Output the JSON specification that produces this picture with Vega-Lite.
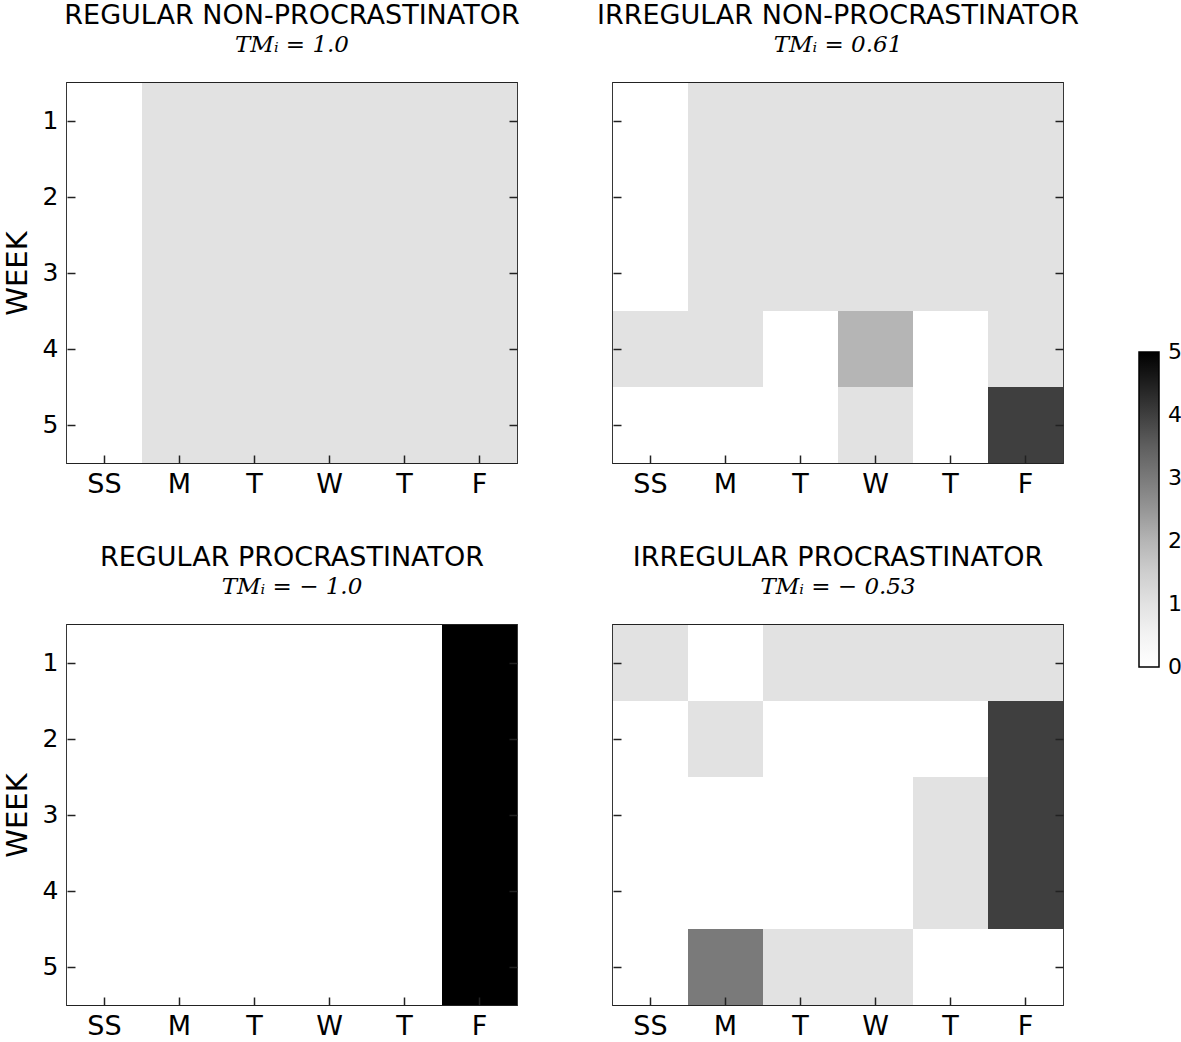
{
  "$schema": "https://vega.github.io/schema/vega-lite/v6.json",
  "padding": {"left": 2, "top": 1, "right": 0, "bottom": 0},
  "background": "white",
  "bounds": "flush",
  "spacing": {"row": 162, "column": 96},
  "columns": 2,
  "datasets": {
    "cells": [
      {"p":"A","w":1,"d":0,"v":0},{"p":"A","w":1,"d":1,"v":1},{"p":"A","w":1,"d":2,"v":1},{"p":"A","w":1,"d":3,"v":1},{"p":"A","w":1,"d":4,"v":1},{"p":"A","w":1,"d":5,"v":1},
      {"p":"A","w":2,"d":0,"v":0},{"p":"A","w":2,"d":1,"v":1},{"p":"A","w":2,"d":2,"v":1},{"p":"A","w":2,"d":3,"v":1},{"p":"A","w":2,"d":4,"v":1},{"p":"A","w":2,"d":5,"v":1},
      {"p":"A","w":3,"d":0,"v":0},{"p":"A","w":3,"d":1,"v":1},{"p":"A","w":3,"d":2,"v":1},{"p":"A","w":3,"d":3,"v":1},{"p":"A","w":3,"d":4,"v":1},{"p":"A","w":3,"d":5,"v":1},
      {"p":"A","w":4,"d":0,"v":0},{"p":"A","w":4,"d":1,"v":1},{"p":"A","w":4,"d":2,"v":1},{"p":"A","w":4,"d":3,"v":1},{"p":"A","w":4,"d":4,"v":1},{"p":"A","w":4,"d":5,"v":1},
      {"p":"A","w":5,"d":0,"v":0},{"p":"A","w":5,"d":1,"v":1},{"p":"A","w":5,"d":2,"v":1},{"p":"A","w":5,"d":3,"v":1},{"p":"A","w":5,"d":4,"v":1},{"p":"A","w":5,"d":5,"v":1},
      {"p":"B","w":1,"d":0,"v":0},{"p":"B","w":1,"d":1,"v":1},{"p":"B","w":1,"d":2,"v":1},{"p":"B","w":1,"d":3,"v":1},{"p":"B","w":1,"d":4,"v":1},{"p":"B","w":1,"d":5,"v":1},
      {"p":"B","w":2,"d":0,"v":0},{"p":"B","w":2,"d":1,"v":1},{"p":"B","w":2,"d":2,"v":1},{"p":"B","w":2,"d":3,"v":1},{"p":"B","w":2,"d":4,"v":1},{"p":"B","w":2,"d":5,"v":1},
      {"p":"B","w":3,"d":0,"v":0},{"p":"B","w":3,"d":1,"v":1},{"p":"B","w":3,"d":2,"v":1},{"p":"B","w":3,"d":3,"v":1},{"p":"B","w":3,"d":4,"v":1},{"p":"B","w":3,"d":5,"v":1},
      {"p":"B","w":4,"d":0,"v":1},{"p":"B","w":4,"d":1,"v":1},{"p":"B","w":4,"d":2,"v":0},{"p":"B","w":4,"d":3,"v":2},{"p":"B","w":4,"d":4,"v":0},{"p":"B","w":4,"d":5,"v":1},
      {"p":"B","w":5,"d":0,"v":0},{"p":"B","w":5,"d":1,"v":0},{"p":"B","w":5,"d":2,"v":0},{"p":"B","w":5,"d":3,"v":1},{"p":"B","w":5,"d":4,"v":0},{"p":"B","w":5,"d":5,"v":4},
      {"p":"C","w":1,"d":0,"v":0},{"p":"C","w":1,"d":1,"v":0},{"p":"C","w":1,"d":2,"v":0},{"p":"C","w":1,"d":3,"v":0},{"p":"C","w":1,"d":4,"v":0},{"p":"C","w":1,"d":5,"v":5},
      {"p":"C","w":2,"d":0,"v":0},{"p":"C","w":2,"d":1,"v":0},{"p":"C","w":2,"d":2,"v":0},{"p":"C","w":2,"d":3,"v":0},{"p":"C","w":2,"d":4,"v":0},{"p":"C","w":2,"d":5,"v":5},
      {"p":"C","w":3,"d":0,"v":0},{"p":"C","w":3,"d":1,"v":0},{"p":"C","w":3,"d":2,"v":0},{"p":"C","w":3,"d":3,"v":0},{"p":"C","w":3,"d":4,"v":0},{"p":"C","w":3,"d":5,"v":5},
      {"p":"C","w":4,"d":0,"v":0},{"p":"C","w":4,"d":1,"v":0},{"p":"C","w":4,"d":2,"v":0},{"p":"C","w":4,"d":3,"v":0},{"p":"C","w":4,"d":4,"v":0},{"p":"C","w":4,"d":5,"v":5},
      {"p":"C","w":5,"d":0,"v":0},{"p":"C","w":5,"d":1,"v":0},{"p":"C","w":5,"d":2,"v":0},{"p":"C","w":5,"d":3,"v":0},{"p":"C","w":5,"d":4,"v":0},{"p":"C","w":5,"d":5,"v":5},
      {"p":"D","w":1,"d":0,"v":1},{"p":"D","w":1,"d":1,"v":0},{"p":"D","w":1,"d":2,"v":1},{"p":"D","w":1,"d":3,"v":1},{"p":"D","w":1,"d":4,"v":1},{"p":"D","w":1,"d":5,"v":1},
      {"p":"D","w":2,"d":0,"v":0},{"p":"D","w":2,"d":1,"v":1},{"p":"D","w":2,"d":2,"v":0},{"p":"D","w":2,"d":3,"v":0},{"p":"D","w":2,"d":4,"v":0},{"p":"D","w":2,"d":5,"v":4},
      {"p":"D","w":3,"d":0,"v":0},{"p":"D","w":3,"d":1,"v":0},{"p":"D","w":3,"d":2,"v":0},{"p":"D","w":3,"d":3,"v":0},{"p":"D","w":3,"d":4,"v":1},{"p":"D","w":3,"d":5,"v":4},
      {"p":"D","w":4,"d":0,"v":0},{"p":"D","w":4,"d":1,"v":0},{"p":"D","w":4,"d":2,"v":0},{"p":"D","w":4,"d":3,"v":0},{"p":"D","w":4,"d":4,"v":1},{"p":"D","w":4,"d":5,"v":4},
      {"p":"D","w":5,"d":0,"v":0},{"p":"D","w":5,"d":1,"v":3},{"p":"D","w":5,"d":2,"v":1},{"p":"D","w":5,"d":3,"v":1},{"p":"D","w":5,"d":4,"v":0},{"p":"D","w":5,"d":5,"v":0}
    ]
  },
  "data": {"name": "cells"},
  "concat": [
    {
      "width": 450, "height": 380,
      "title": {"text": "REGULAR NON-PROCRASTINATOR", "subtitle": "TMᵢ = 1.0"},
      "transform": [{"filter": "datum.p === 'A'"}],
      "layer": [
        {"mark": {"type": "rect", "strokeWidth": 0},
         "encoding": {
           "x": {"field": "d", "type": "ordinal", "scale": {"paddingInner": 0, "paddingOuter": 0}, "axis": {"title": null, "zindex": 1, "labelExpr": "['SS','M','T','W','T','F'][datum.value]"}},
           "y": {"field": "w", "type": "ordinal", "scale": {"paddingInner": 0, "paddingOuter": 0}, "axis": {"title": "WEEK", "zindex": 1}},
           "color": {"field": "v", "type": "quantitative",
             "scale": {"type": "linear", "domain": [0, 0.625, 1.25, 1.875, 2.5, 3.125, 3.75, 4.375, 5],
               "range": ["#ffffff", "#f0f0f0", "#d9d9d9", "#bdbdbd", "#969696", "#737373", "#525252", "#252525", "#000000"]},
             "legend": {"title": null, "values": [0, 1, 2, 3, 4, 5], "labelOffset": 9,
               "encode": {"labels": {"update": {"baseline": {"value": "middle"}}}}}}
         }},
        {"mark": {"type": "rect", "opacity": 0},
         "encoding": {
           "x": {"field": "d", "type": "ordinal"},
           "y": {"field": "w", "type": "ordinal", "axis": {"orient": "right", "labels": false, "title": null, "zindex": 1}}
         }}
      ],
      "resolve": {"axis": {"y": "independent"}}
    },
    {
      "width": 450, "height": 380,
      "title": {"text": "IRREGULAR NON-PROCRASTINATOR", "subtitle": "TMᵢ = 0.61"},
      "transform": [{"filter": "datum.p === 'B'"}],
      "layer": [
        {"mark": {"type": "rect", "strokeWidth": 0},
         "encoding": {
           "x": {"field": "d", "type": "ordinal", "scale": {"paddingInner": 0, "paddingOuter": 0}, "axis": {"title": null, "zindex": 1, "labelExpr": "['SS','M','T','W','T','F'][datum.value]"}},
           "y": {"field": "w", "type": "ordinal", "scale": {"paddingInner": 0, "paddingOuter": 0}, "axis": {"title": null, "labels": false, "zindex": 1}},
           "color": {"field": "v", "type": "quantitative"}
         }},
        {"mark": {"type": "rect", "opacity": 0},
         "encoding": {
           "x": {"field": "d", "type": "ordinal"},
           "y": {"field": "w", "type": "ordinal", "axis": {"orient": "right", "labels": false, "title": null, "zindex": 1}}
         }}
      ],
      "resolve": {"axis": {"y": "independent"}}
    },
    {
      "width": 450, "height": 380,
      "title": {"text": "REGULAR PROCRASTINATOR", "subtitle": "TMᵢ = − 1.0"},
      "transform": [{"filter": "datum.p === 'C'"}],
      "layer": [
        {"mark": {"type": "rect", "strokeWidth": 0},
         "encoding": {
           "x": {"field": "d", "type": "ordinal", "scale": {"paddingInner": 0, "paddingOuter": 0}, "axis": {"title": null, "zindex": 1, "labelExpr": "['SS','M','T','W','T','F'][datum.value]"}},
           "y": {"field": "w", "type": "ordinal", "scale": {"paddingInner": 0, "paddingOuter": 0}, "axis": {"title": "WEEK", "zindex": 1}},
           "color": {"field": "v", "type": "quantitative"}
         }},
        {"mark": {"type": "rect", "opacity": 0},
         "encoding": {
           "x": {"field": "d", "type": "ordinal"},
           "y": {"field": "w", "type": "ordinal", "axis": {"orient": "right", "labels": false, "title": null, "zindex": 1}}
         }}
      ],
      "resolve": {"axis": {"y": "independent"}}
    },
    {
      "width": 450, "height": 380,
      "title": {"text": "IRREGULAR PROCRASTINATOR", "subtitle": "TMᵢ = − 0.53"},
      "transform": [{"filter": "datum.p === 'D'"}],
      "layer": [
        {"mark": {"type": "rect", "strokeWidth": 0},
         "encoding": {
           "x": {"field": "d", "type": "ordinal", "scale": {"paddingInner": 0, "paddingOuter": 0}, "axis": {"title": null, "zindex": 1, "labelExpr": "['SS','M','T','W','T','F'][datum.value]"}},
           "y": {"field": "w", "type": "ordinal", "scale": {"paddingInner": 0, "paddingOuter": 0}, "axis": {"title": null, "labels": false, "zindex": 1}},
           "color": {"field": "v", "type": "quantitative"}
         }},
        {"mark": {"type": "rect", "opacity": 0},
         "encoding": {
           "x": {"field": "d", "type": "ordinal"},
           "y": {"field": "w", "type": "ordinal", "axis": {"orient": "right", "labels": false, "title": null, "zindex": 1}}
         }}
      ],
      "resolve": {"axis": {"y": "independent"}}
    }
  ],
  "resolve": {"scale": {"color": "shared"}},
  "config": {
    "view": {"stroke": "#222", "strokeWidth": 1.8},
    "axis": {
      "domain": false, "grid": false, "ticks": true, "tickColor": "#222", "tickWidth": 1.5, "tickSize": 8, "offset": -8,
      "labelFont": "DejaVu Sans", "labelColor": "#000", "titleFont": "DejaVu Sans", "titleFontWeight": "normal",
      "titleColor": "#000", "labelAngle": 0
    },
    "axisX": {"labelFontSize": 27, "labelPadding": 8},
    "axisY": {"labelFontSize": 25, "labelPadding": 9, "titleFontSize": 29, "titlePadding": 10},
    "title": {
      "font": "DejaVu Sans", "fontSize": 27, "fontWeight": "normal", "color": "#000",
      "subtitleFont": "DejaVu Serif", "subtitleFontSize": 23, "subtitleFontStyle": "italic", "subtitleColor": "#000",
      "subtitlePadding": 4, "offset": 25, "anchor": "middle", "frame": "group"
    },
    "legend": {
      "orient": "none", "legendX": 1072, "legendY": 269, "padding": 0,
      "direction": "vertical", "gradientLength": 315, "gradientThickness": 20,
      "gradientStrokeColor": "#000", "gradientStrokeWidth": 1.5,
      "labelFont": "DejaVu Sans", "labelFontSize": 22, "labelColor": "#000", "labelOverlap": false
    }
  }
}
